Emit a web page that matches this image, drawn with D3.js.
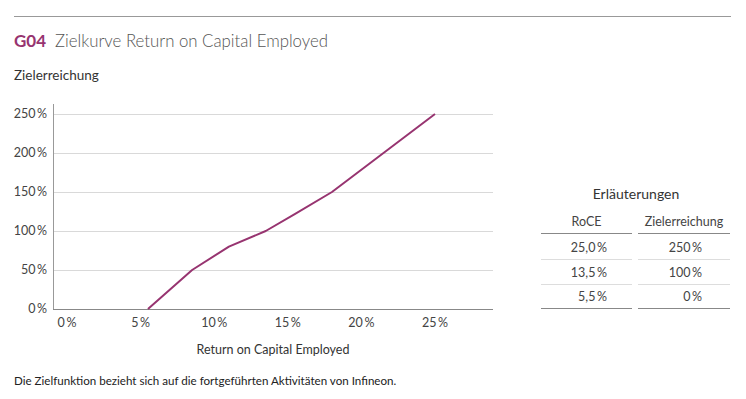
<!DOCTYPE html>
<html>
<head>
<meta charset="utf-8">
<script src="https://cdn.jsdelivr.net/npm/d3@7"></script>
<style>
  body { margin: 0; background: #fff; }
  svg { font-family: Lato, "Open Sans", sans-serif; }
  .tick-label { font-size: 12.5px; fill: #444; }
  .table-text { font-size: 12.5px; fill: #444; }
</style>
</head>
<body>
<div id="chart"></div>
<script>
// data
const roce = [0, 5.5, 8.5, 11, 13.5, 15.5, 18, 25];
const zielerreichung = [0, 0, 50, 80, 100, 122, 150, 250];
const xTicks = [0, 5, 10, 15, 20, 25];
const yTicks = [0, 50, 100, 150, 200, 250];
const tableHeader = ["RoCE", "Zielerreichung"];
const tableRoce = ["25,0\u2009%", "13,5\u2009%", "5,5\u2009%"];
const tableZiel = ["250\u2009%", "100\u2009%", "0\u2009%"];

const width = 746;
const height = 399;
const accent = "#973470";

const svg = d3
  .select("#chart")
  .append("svg")
  .attr("width", width)
  .attr("height", height);

// header
svg
  .append("line")
  .attr("x1", 14)
  .attr("x2", 731)
  .attr("y1", 16.5)
  .attr("y2", 16.5)
  .attr("stroke", "#999")
  .attr("stroke-width", 1);

const title = svg.append("text").attr("x", 14).attr("y", 47);
title
  .append("tspan")
  .attr("fill", accent)
  .style("font-weight", "bold")
  .style("font-size", "17px")
  .text("G04");
title
  .append("tspan")
  .attr("dx", 9)
  .attr("fill", "#555")
  .style("font-weight", 300)
  .style("font-size", "16.8px")
  .text("Zielkurve Return on Capital Employed");

svg
  .append("text")
  .attr("x", 14)
  .attr("y", 80)
  .attr("fill", "#333")
  .style("font-size", "13.5px")
  .text("Zielerreichung");

// scales
var x = d3.scaleLinear().domain([0, 25]).range([67, 435]);
var y = d3.scaleLinear().domain([0, 250]).range([309, 114]);
const plotLeft = 53;
const plotRight = 493;

// gridlines
svg
  .selectAll(".grid")
  .data(yTicks.filter(d => d > 0))
  .enter()
  .append("line")
  .attr("class", "grid")
  .attr("x1", plotLeft)
  .attr("x2", plotRight)
  .attr("y1", d => Math.round(y(d)) + 0.5)
  .attr("y2", d => Math.round(y(d)) + 0.5)
  .attr("stroke", "#d9d9d9")
  .attr("stroke-width", 1);

// axes
svg
  .append("line")
  .attr("x1", plotLeft + 0.5)
  .attr("x2", plotLeft + 0.5)
  .attr("y1", 104)
  .attr("y2", y(0))
  .attr("stroke", "#999");

svg
  .append("line")
  .attr("x1", plotLeft)
  .attr("x2", plotRight)
  .attr("y1", y(0) + 0.5)
  .attr("y2", y(0) + 0.5)
  .attr("stroke", "#888");

svg
  .selectAll(".ylabel")
  .data(yTicks)
  .enter()
  .append("text")
  .attr("class", "tick-label")
  .attr("x", 47)
  .attr("y", d => y(d))
  .attr("dy", "0.35em")
  .attr("text-anchor", "end")
  .text(d => d + "\u2009%");

svg
  .selectAll(".xlabel")
  .data(xTicks)
  .enter()
  .append("text")
  .attr("class", "tick-label")
  .attr("x", d => x(d))
  .attr("y", 327)
  .attr("text-anchor", "middle")
  .text(d => d + "\u2009%");

svg
  .append("text")
  .attr("x", 273)
  .attr("y", 354)
  .attr("text-anchor", "middle")
  .attr("fill", "#333")
  .style("font-size", "12.5px")
  .text("Return on Capital Employed");

// curve
const points = roce.map((d, i) => [d, zielerreichung[i]]);
const line = d3
  .line()
  .x(d => x(d[0]))
  .y(d => y(d[1]));

svg
  .append("path")
  .datum(points.filter(d => d[0] >= 5.5))
  .attr("d", line)
  .attr("fill", "none")
  .attr("stroke", accent)
  .attr("stroke-width", 2)
  .attr("stroke-linejoin", "round");

// table
svg
  .append("text")
  .attr("x", 636)
  .attr("y", 199)
  .attr("text-anchor", "middle")
  .attr("fill", "#333")
  .style("font-size", "14px")
  .text("Erläuterungen");

const cols = [
  { x1: 541, x2: 632, right: 607, values: tableRoce },
  { x1: 638, x2: 730, right: 702, values: tableZiel }
];

cols.forEach(function(c, ci) {
  svg
    .append("text")
    .attr("class", "table-text")
    .attr("x", (c.x1 + c.x2) / 2)
    .attr("y", 226)
    .attr("text-anchor", "middle")
    .text(tableHeader[ci]);

  svg
    .append("line")
    .attr("x1", c.x1)
    .attr("x2", c.x2)
    .attr("y1", 233.5)
    .attr("y2", 233.5)
    .attr("stroke", "#888");

  svg
    .selectAll(".cell" + ci)
    .data(c.values)
    .enter()
    .append("text")
    .attr("class", "table-text")
    .attr("x", c.right)
    .attr("y", (d, i) => 252 + i * 24.5)
    .attr("text-anchor", "end")
    .text(d => d);

  svg
    .selectAll(".sep" + ci)
    .data([259.5, 284.5])
    .enter()
    .append("line")
    .attr("x1", c.x1)
    .attr("x2", c.x2)
    .attr("y1", d => d)
    .attr("y2", d => d)
    .attr("stroke", "#ddd");

  svg
    .append("line")
    .attr("x1", c.x1)
    .attr("x2", c.x2)
    .attr("y1", 308.5)
    .attr("y2", 308.5)
    .attr("stroke", "#888");
});

// footnote
svg
  .append("text")
  .attr("x", 14)
  .attr("y", 385)
  .attr("fill", "#222")
  .style("font-size", "11.6px")
  .text("Die Zielfunktion bezieht sich auf die fortgeführten Aktivitäten von Infineon.");
</script>
</body>
</html>
